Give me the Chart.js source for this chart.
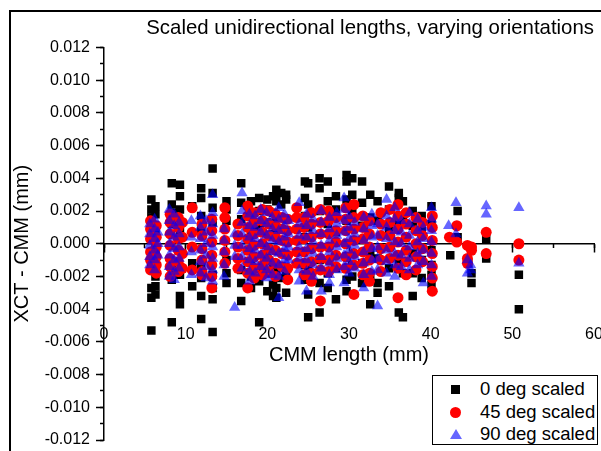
<!DOCTYPE html>
<html>
<head>
<meta charset="utf-8">
<script src="https://cdn.jsdelivr.net/npm/chart.js@4.4.1/dist/chart.umd.min.js"></script>
<style>
  body { margin: 0; background: #fff; }
  #wrap { position: relative; width: 601px; height: 451px; overflow: hidden; }
  #frame { position: absolute; left: 9px; top: 10px; width: 800px; height: 800px;
           border-left: 2px solid #000; border-top: 2px solid #000; }
  #chart { position: absolute; left: 0; top: 0; }
  #legend { position: absolute; left: 432px; top: 375px; width: 166px; height: 70px;
            border: 1px solid #000; background: #fff; box-sizing: border-box;
            font-family: 'Liberation Sans', Arial, sans-serif; font-size: 18.5px; color: #000; }
  .row { position: absolute; left: 0; height: 22px; line-height: 22px; white-space: nowrap; }
  .mk { position: absolute; }
  .txt { position: absolute; left: 47px; }
</style>
</head>
<body>
<div id="wrap">
  <div id="frame"></div>
  <canvas id="chart" width="601" height="451"></canvas>
  <div id="legend"></div>
</div>
<script>
// 0 deg scaled: CMM length (mm) and XCT - CMM deviations (mm) at each length
const lengths0 = [5.8, 6.3, 8.3, 9.3, 10.8, 11.9, 13.3, 15.0, 16.8, 18.0, 19.0, 20.0, 20.7, 21.1, 21.7, 22.3,
  24.6, 25.0, 26.4, 27.4, 28.4, 29.7, 30.4, 31.6, 32.6, 33.5, 34.9, 36.1, 36.6, 37.8, 38.9, 40.1,
  42.4, 43.3, 44.6, 45.0, 46.8, 50.8];
const devs0 = [
  [0.0027, 0.0021, 0.0016, 0.0004, -0.0008, -0.0015, -0.0027, -0.0033, -0.0053],
  [0.0023, 0.0018, 0.0009, -0.0003, -0.0012, -0.0020, -0.0026, -0.0031],
  [0.0037, 0.0024, 0.0019, 0.0012, -0.0016, -0.0022, -0.0048],
  [0.0036, 0.0029, 0.0021, 0.0008, -0.0019, -0.0032, -0.0037],
  [0.0023, -0.0012, -0.0026],
  [0.0034, 0.0028, 0.0017, 0.0009, -0.0014, -0.0021, -0.0032, -0.0046],
  [0.0046, 0.0031, 0.0022, 0.0013, -0.0019, -0.0027, -0.0034, -0.0054],
  [0.0026, 0.0021, 0.0014, -0.0010, -0.0018, -0.0024],
  [0.0037, 0.0025, 0.0015, -0.0016, -0.0024, -0.0035],
  [0.0026, 0.0018, 0.0008, -0.0011, -0.0020, -0.0027],
  [0.0028, 0.0020, 0.0011, -0.0015, -0.0023, -0.0048],
  [0.0027, 0.0021, 0.0013, -0.0009, -0.0018, -0.0029],
  [0.0029, 0.0019, 0.0006, -0.0012, -0.0025, -0.0032],
  [0.0033, 0.0026, 0.0016, -0.0017, -0.0027, -0.0033],
  [0.0031, 0.0024, 0.0009, -0.0014, -0.0021],
  [0.0030, 0.0027, 0.0015, -0.0019, -0.0030],
  [0.0038, 0.0028, 0.0017, 0.0004, -0.0013, -0.0022],
  [0.0037, 0.0024, 0.0010, -0.0016, -0.0031, -0.0045],
  [0.0040, 0.0034, 0.0020, -0.0010, -0.0024, -0.0042],
  [0.0038, 0.0026, 0.0012, -0.0018, -0.0027],
  [0.0029, 0.0021, 0.0007, -0.0015, -0.0034],
  [0.0042, 0.0038, 0.0027, 0.0014, -0.0008, -0.0022, -0.0029],
  [0.0040, 0.0030, 0.0019, -0.0013, -0.0020],
  [0.0038, 0.0025, 0.0011, -0.0012, -0.0024],
  [0.0030, 0.0016, -0.0006, -0.0019, -0.0037],
  [0.0026, 0.0014, -0.0009, -0.0024, -0.0030],
  [0.0035, 0.0021, 0.0008, -0.0015, -0.0026],
  [0.0031, 0.0028, 0.0012, -0.0011, -0.0042],
  [0.0026, 0.0017, -0.0018, -0.0045],
  [0.0020, 0.0011, -0.0006, -0.0018, -0.0032],
  [0.0017, 0.0008, -0.0010, -0.0021],
  [0.0023, 0.0012, -0.0004, -0.0013, -0.0019, -0.0025],
  [-0.0007],
  [0.0020, 0.0004],
  [-0.0012],
  [-0.0024, -0.0018],
  [0.0003, -0.0009],
  [-0.0019, -0.0040]
];

// 45 deg scaled
const lengths45 = [5.7, 6.4, 8.1, 9.1, 9.6, 10.8, 12.0, 13.2, 14.8, 16.4, 17.6, 18.4, 19.4, 20.2, 21.0, 21.8,
  22.5, 23.6, 24.5, 25.4, 26.5, 27.5, 28.4, 29.6, 30.6, 31.7, 32.5, 33.9, 35.0, 36.0, 37.0, 38.2,
  39.0, 40.2, 42.3, 43.2, 44.5, 45.0, 46.8, 50.8];
const devs45 = [
  [0.0014, 0.0009, 0.0003, -0.0005, -0.0010, -0.0016],
  [0.0011, 0.0004, -0.0002, -0.0008, -0.0013, -0.0018],
  [0.0018, 0.0013, 0.0006, -0.0001, -0.0009, -0.0014, -0.0020],
  [0.0016, 0.0010, 0.0003, -0.0004, -0.0011, -0.0017],
  [0.0013, 0.0004, -0.0006, -0.0015],
  [0.0022, 0.0007, -0.0002, -0.0016],
  [0.0012, 0.0005, -0.0003, -0.0010, -0.0017, -0.0019],
  [0.0015, 0.0008, 0.0001, -0.0007, -0.0013, -0.0020, -0.0027],
  [0.0022, 0.0016, 0.0009, 0.0002, -0.0005, -0.0012],
  [0.0012, 0.0005, -0.0002, -0.0009, -0.0015],
  [0.0023, 0.0017, 0.0010, 0.0003, -0.0004, -0.0011, -0.0018, -0.0027],
  [0.0019, 0.0013, 0.0006, -0.0001, -0.0008, -0.0015, -0.0021],
  [0.0021, 0.0014, 0.0007, 0.0000, -0.0007, -0.0013, -0.0019],
  [0.0020, 0.0012, 0.0005, -0.0003, -0.0010, -0.0017],
  [0.0018, 0.0011, 0.0004, -0.0004, -0.0012, -0.0020],
  [0.0016, 0.0009, 0.0002, -0.0006, -0.0014],
  [0.0015, 0.0008, 0.0001, -0.0007, -0.0015, -0.0022],
  [0.0022, 0.0016, 0.0009, 0.0002, -0.0005, -0.0012],
  [0.0016, 0.0010, 0.0003, -0.0005, -0.0012, -0.0019],
  [0.0019, 0.0012, 0.0004, -0.0003, -0.0011, -0.0018, -0.0023],
  [0.0021, 0.0013, 0.0006, -0.0002, -0.0009, -0.0016, -0.0035],
  [0.0020, 0.0014, 0.0006, -0.0002, -0.0010, -0.0017],
  [0.0016, 0.0008, 0.0001, -0.0007, -0.0014],
  [0.0022, 0.0015, 0.0008, 0.0000, -0.0008, -0.0015],
  [0.0024, 0.0016, 0.0009, 0.0002, -0.0006, -0.0013, -0.0031],
  [0.0017, 0.0010, 0.0003, -0.0005, -0.0012, -0.0019],
  [0.0014, 0.0006, -0.0002, -0.0010, -0.0018, -0.0023],
  [0.0019, 0.0012, 0.0005, -0.0003, -0.0010, -0.0017],
  [0.0021, 0.0013, 0.0005, -0.0002, -0.0009],
  [0.0024, 0.0017, 0.0009, 0.0001, -0.0007, -0.0015, -0.0033],
  [0.0019, 0.0012, 0.0004, -0.0004, -0.0011, -0.0019],
  [0.0016, 0.0008, 0.0000, -0.0008, -0.0016],
  [0.0013, 0.0005, -0.0003, -0.0011],
  [0.0017, 0.0010, 0.0002, -0.0006, -0.0014, -0.0021, -0.0029],
  [0.0004],
  [0.0011, 0.0001],
  [-0.0001, -0.0009, -0.0012],
  [-0.0002, -0.0004],
  [0.0007, -0.0006],
  [0.0000, -0.0010]
];

// 90 deg scaled
const lengths90 = [5.6, 6.2, 6.6, 8.0, 8.6, 9.2, 10.7, 11.8, 12.5, 13.3, 14.7, 16.0, 16.9, 17.8, 18.5, 19.2,
  19.9, 20.6, 21.4, 22.1, 22.6, 23.9, 24.8, 25.6, 26.6, 27.6, 28.5, 29.4, 30.0, 30.7, 31.8, 32.8,
  33.5, 34.6, 35.6, 36.4, 37.4, 38.4, 39.1, 40.1, 42.2, 43.1, 44.5, 44.9, 46.8, 50.8];
const devs90 = [
  [0.0012, 0.0006, -0.0001, -0.0008, -0.0013],
  [0.0015, 0.0009, 0.0003, -0.0004, -0.0010, -0.0016],
  [0.0007, 0.0000, -0.0007],
  [0.0021, 0.0014, 0.0007, 0.0000, -0.0007, -0.0014, -0.0020],
  [0.0018, 0.0011, 0.0004, -0.0003, -0.0010, -0.0017, -0.0022],
  [0.0013, 0.0006, -0.0002, -0.0009, -0.0015],
  [0.0014, 0.0004, -0.0005, -0.0019],
  [0.0017, 0.0010, 0.0003, -0.0004, -0.0011, -0.0018],
  [0.0014, 0.0007, 0.0000, -0.0007, -0.0014, -0.0021],
  [0.0030, 0.0019, 0.0012, 0.0005, -0.0002, -0.0009, -0.0016, -0.0023],
  [0.0009, 0.0002, -0.0005, -0.0013, -0.0020],
  [0.0006, -0.0001, -0.0008, -0.0039],
  [0.0031, 0.0020, 0.0013, 0.0006, -0.0001, -0.0008, -0.0015],
  [0.0018, 0.0011, 0.0004, -0.0003, -0.0010, -0.0017, -0.0023],
  [0.0017, 0.0010, 0.0003, -0.0004, -0.0011, -0.0018],
  [0.0021, 0.0014, 0.0007, 0.0000, -0.0007, -0.0014],
  [0.0019, 0.0012, 0.0005, -0.0002, -0.0009, -0.0016, -0.0021],
  [0.0016, 0.0009, 0.0002, -0.0005, -0.0012, -0.0019],
  [0.0022, 0.0015, 0.0008, 0.0001, -0.0006, -0.0013, -0.0020, -0.0033],
  [0.0018, 0.0011, 0.0004, -0.0003, -0.0010, -0.0017],
  [0.0014, 0.0006, -0.0002, -0.0010],
  [0.0025, 0.0012, 0.0005, -0.0002, -0.0009, -0.0016, -0.0023],
  [0.0018, 0.0011, 0.0004, -0.0003, -0.0010, -0.0017, -0.0029],
  [0.0015, 0.0008, 0.0001, -0.0006, -0.0013, -0.0020],
  [0.0020, 0.0013, 0.0006, -0.0001, -0.0008, -0.0015, -0.0029],
  [0.0016, 0.0009, 0.0002, -0.0005, -0.0012, -0.0019, -0.0024],
  [0.0019, 0.0012, 0.0005, -0.0002, -0.0009, -0.0016],
  [0.0028, 0.0021, 0.0014, 0.0007, 0.0000, -0.0007, -0.0014, -0.0024],
  [0.0017, 0.0010, 0.0003, -0.0004, -0.0011, -0.0018],
  [0.0013, 0.0006, -0.0001, -0.0008, -0.0015],
  [0.0016, 0.0009, 0.0002, -0.0005, -0.0012, -0.0019, -0.0027],
  [0.0018, 0.0011, 0.0004, -0.0003, -0.0010, -0.0017],
  [0.0012, 0.0005, -0.0002, -0.0009, -0.0016, -0.0038],
  [0.0027, 0.0017, 0.0010, 0.0003, -0.0004, -0.0011, -0.0018],
  [0.0022, 0.0015, 0.0008, 0.0001, -0.0006, -0.0013, -0.0020],
  [0.0014, 0.0007, 0.0000, -0.0007, -0.0014],
  [0.0019, 0.0012, 0.0005, -0.0002, -0.0009, -0.0016],
  [0.0015, 0.0008, 0.0001, -0.0006, -0.0013],
  [0.0010, 0.0003, -0.0004, -0.0011, -0.0024],
  [0.0022, 0.0015, 0.0008, 0.0001, -0.0006, -0.0013, -0.0020],
  [0.0011],
  [0.0025, 0.0006],
  [-0.0010, -0.0018],
  [-0.0013, -0.0016],
  [0.0023, 0.0018],
  [0.0022, -0.0012]
];

const seriesNames = ['0 deg scaled', '45 deg scaled', '90 deg scaled'];
const titleText = 'Scaled unidirectional lengths, varying orientations';
const xTitle = 'CMM length (mm)';
const yTitle = 'XCT - CMM (mm)';

const FONT = "'Liberation Sans', Arial, sans-serif";
Chart.defaults.font.family = FONT;
Chart.defaults.font.size = 16;
Chart.defaults.color = '#000';
Chart.defaults.borderColor = '#000';

// lengths + deviation lists -> scatter points
function toPoints(lengths, devs) {
  const pts = [];
  lengths.forEach((len, i) => {
    devs[i].forEach(d => pts.push({ x: len, y: d }));
  });
  return pts;
}

const datasets = [
  { label: seriesNames[0], data: toPoints(lengths0, devs0), pointStyle: 'rect',
    pointRadius: 6, backgroundColor: '#000', borderWidth: 0, order: 3 },
  { label: seriesNames[1], data: toPoints(lengths45, devs45), pointStyle: 'circle',
    pointRadius: 5.5, backgroundColor: '#ff0000', borderWidth: 0, order: 2 },
  { label: seriesNames[2], data: toPoints(lengths90, devs90), pointStyle: 'triangle',
    pointRadius: 6.5, backgroundColor: 'rgba(0,0,255,0.6)', borderWidth: 0, order: 1 }
];

const chart = new Chart(document.getElementById('chart').getContext('2d'), {
  type: 'scatter',
  data: { datasets },
  options: {
    responsive: false,
    animation: false,
    events: [],
    layout: { padding: { left: 9, right: 7, top: 11, bottom: 11 } },
    plugins: {
      legend: { display: false },
      tooltip: { enabled: false },
      title: {
        display: true, text: titleText, align: 'end',
        font: { size: 20.4, weight: 'normal' },
        padding: { top: 5, bottom: 7 }
      }
    },
    scales: {
      // main x axis crosses at y = 0, labels pushed down like the original
      x: {
        position: { y: 0 }, min: 0, max: 60,
        ticks: { stepSize: 10, padding: 73, font: { size: 16 } },
        grid: { drawOnChartArea: false, tickLength: 8, tickWidth: 1.5 },
        border: { width: 1.5 },
        title: { display: true, text: xTitle, font: { size: 20 },
                 padding: { top: 0, bottom: -124 } },
        afterFit: s => { s.height = 0; s.paddingLeft = 0; s.paddingRight = 0; }
      },
      y: {
        position: 'left', min: -0.012, max: 0.012,
        ticks: { stepSize: 0.002, padding: 6, font: { size: 16 },
                 callback: v => (Math.abs(v) < 1e-9 ? 0 : v).toFixed(3) },
        grid: { drawOnChartArea: false, tickLength: 8, tickWidth: 1.5 },
        border: { width: 1.5 },
        title: { display: true, text: yTitle, font: { size: 20 },
                 padding: { top: 1, bottom: 0 } },
        afterFit: s => { s.width = 95; s.paddingTop = 0; s.paddingBottom = 0; }
      },
      // minor tick marks only
      xMinor: {
        position: { y: 0 }, min: 0, max: 60,
        ticks: { stepSize: 5, display: false },
        grid: { drawOnChartArea: false, tickLength: 4, tickWidth: 1.5 },
        border: { display: false },
        afterFit: s => { s.height = 0; s.paddingLeft = 0; s.paddingRight = 0; }
      },
      yMinor: {
        position: { x: 0 }, min: -0.012, max: 0.012,
        ticks: { stepSize: 0.001, display: false },
        grid: { drawOnChartArea: false, tickLength: 4, tickWidth: 1.5 },
        border: { display: false },
        afterFit: s => { s.width = 0; s.paddingTop = 0; s.paddingBottom = 0; }
      }
    }
  }
});

// legend box (drawn as HTML from the chart's datasets)
const legend = document.getElementById('legend');
chart.data.datasets.forEach((ds, i) => {
  const row = document.createElement('div');
  row.className = 'row';
  row.style.top = (2 + i * 22.5) + 'px';
  const mk = document.createElement('span');
  mk.className = 'mk';
  if (ds.pointStyle === 'rect') {
    Object.assign(mk.style, { left: '18px', top: '7px', width: '9px', height: '9px', background: ds.backgroundColor });
  } else if (ds.pointStyle === 'circle') {
    Object.assign(mk.style, { left: '17px', top: '6px', width: '11px', height: '11px',
      borderRadius: '50%', background: ds.backgroundColor });
  } else {
    Object.assign(mk.style, { left: '17px', top: '6px', width: '0', height: '0',
      borderLeft: '6px solid transparent', borderRight: '6px solid transparent',
      borderBottom: '10px solid ' + ds.backgroundColor });
  }
  const txt = document.createElement('span');
  txt.className = 'txt';
  txt.textContent = ds.label;
  row.append(mk, txt);
  legend.append(row);
});
</script>
</body>
</html>
